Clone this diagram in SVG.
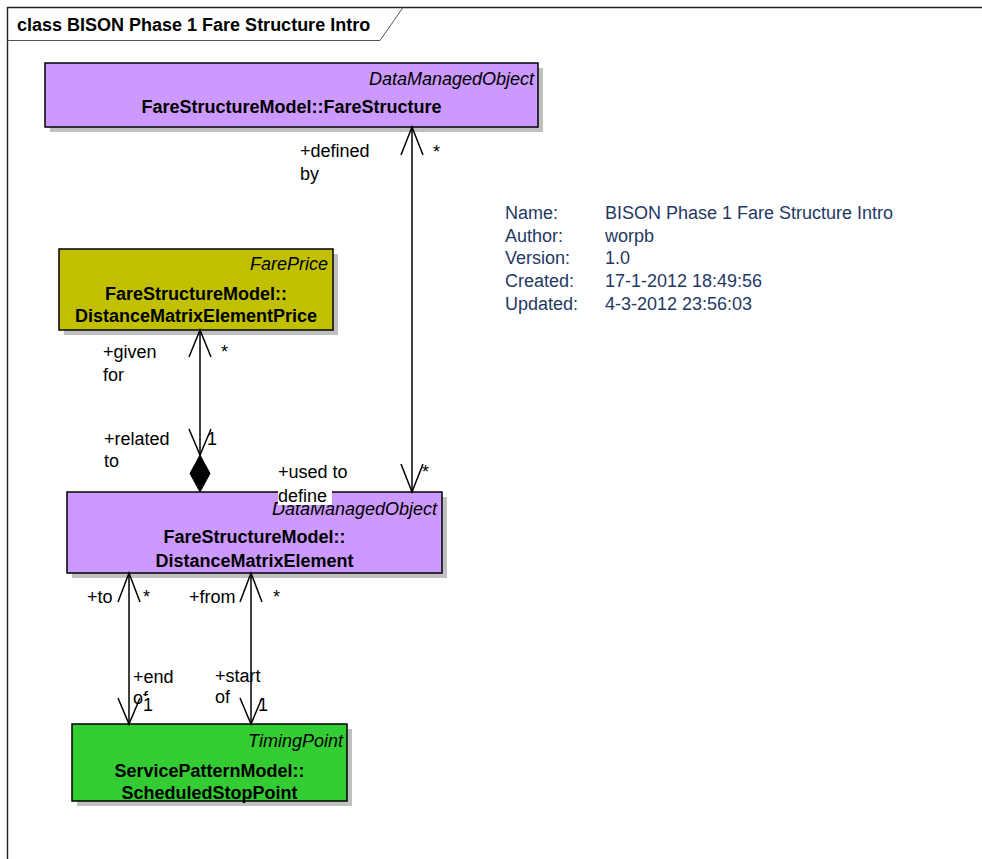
<svg xmlns="http://www.w3.org/2000/svg" width="982" height="859" viewBox="0 0 982 859">
<style>
text { font-family: "Liberation Sans", Arial, sans-serif; font-size: 18px; fill: #000; }
.st { font-style: italic; text-anchor: end; }
.nm { font-weight: bold; text-anchor: middle; }
.box { stroke: #000; stroke-width: 1.5; }
.sh { fill: #C0C0C0; }
.ln { stroke: #000; stroke-width: 1.5; fill: none; }
.info { fill: #1F3864; }
</style>
<rect width="982" height="859" fill="#fff"/>
<g id="frame">
  <path d="M7.5,859 V7.5 H982" fill="none" stroke="#222" stroke-width="1.4"/>
  <path d="M7.5,40.5 H380 L403,7.5" fill="none" stroke="#555" stroke-width="1"/>
  <text x="17" y="31" font-weight="bold">class BISON Phase 1 Fare Structure Intro</text>
</g>
<g id="FareStructure">
  <rect class="sh" x="50" y="68" width="493" height="64"/>
  <rect class="box" x="45" y="63" width="493" height="64" fill="#CC99FF"/>
  <text class="st" x="534" y="85">DataManagedObject</text>
  <text class="nm" x="291.5" y="113">FareStructureModel::FareStructure</text>
</g>
<g id="DistanceMatrixElementPrice">
  <rect class="sh" x="64" y="254" width="274" height="81"/>
  <rect class="box" x="59" y="249" width="274" height="81" fill="#C0C000"/>
  <text class="st" x="328" y="270">FarePrice</text>
  <text class="nm" x="196" y="300">FareStructureModel::</text>
  <text class="nm" x="196" y="322">DistanceMatrixElementPrice</text>
</g>
<g id="DistanceMatrixElement">
  <rect class="sh" x="72" y="497" width="375" height="81"/>
  <rect class="box" x="67" y="492" width="375" height="81" fill="#CC99FF"/>
  <text class="st" x="437" y="515">DataManagedObject</text>
  <text class="nm" x="254.5" y="543">FareStructureModel::</text>
  <text class="nm" x="254.5" y="567">DistanceMatrixElement</text>
</g>
<g id="ScheduledStopPoint">
  <rect class="sh" x="77" y="729" width="275" height="77"/>
  <rect class="box" x="72" y="724" width="275" height="77" fill="#33CC33"/>
  <text class="st" x="343" y="747">TimingPoint</text>
  <text class="nm" x="209.5" y="777">ServicePatternModel::</text>
  <text class="nm" x="209.5" y="799">ScheduledStopPoint</text>
</g>
<g id="connectors">
  <!-- FareStructure - DME -->
  <path class="ln" d="M412,127 V492"/>
  <path class="ln" d="M401,155 L412,127 L423,155"/>
  <path class="ln" d="M401,464 L412,492 L423,464"/>
  <text x="300" y="157">+defined</text>
  <text x="300" y="180">by</text>
  <text x="433" y="158">*</text>
  <text x="422" y="478">*</text>
  <!-- FarePrice - DME -->
  <path class="ln" d="M200,330 V455"/>
  <path class="ln" d="M189,357 L200,330 L211,357"/>
  <path class="ln" d="M189,429 L200,455 L211,429"/>
  <path d="M200,455 L190,473.5 L200,492 L210,473.5 Z" fill="#000" stroke="#000"/>
  <text x="103" y="358">+given</text>
  <text x="103" y="381">for</text>
  <text x="221" y="358">*</text>
  <text x="104" y="445">+related</text>
  <text x="104" y="467">to</text>
  <text x="207" y="445">1</text>
  <text x="278" y="478">+used to</text>
  <rect x="278" y="490" width="54" height="15" fill="#fff"/>
  <text x="278" y="502">define</text>
  <!-- DME - SSP (to) -->
  <path class="ln" d="M129,573 V724"/>
  <path class="ln" d="M118,602 L129,573 L140,602"/>
  <path class="ln" d="M118,698 L129,724 L140,698"/>
  <text x="87" y="603">+to</text>
  <text x="143" y="603">*</text>
  <text x="133" y="683">+end</text>
  <text x="133" y="704">of</text>
  <rect x="143" y="696" width="10" height="18" fill="#fff"/>
  <text x="143" y="711">1</text>
  <!-- DME - SSP (from) -->
  <path class="ln" d="M251,573 V724"/>
  <path class="ln" d="M240,602 L251,573 L262,602"/>
  <path class="ln" d="M240,698 L251,724 L262,698"/>
  <text x="189" y="603">+from</text>
  <text x="273" y="603">*</text>
  <text x="215" y="682">+start</text>
  <text x="215" y="703">of</text>
  <text x="258" y="711">1</text>
</g>
<g id="info">
  <text class="info" x="505" y="219">Name:</text>
  <text class="info" x="605" y="219">BISON Phase 1 Fare Structure Intro</text>
  <text class="info" x="505" y="242">Author:</text>
  <text class="info" x="605" y="242">worpb</text>
  <text class="info" x="505" y="264">Version:</text>
  <text class="info" x="605" y="264">1.0</text>
  <text class="info" x="505" y="287">Created:</text>
  <text class="info" x="605" y="287">17-1-2012 18:49:56</text>
  <text class="info" x="505" y="310">Updated:</text>
  <text class="info" x="605" y="310">4-3-2012 23:56:03</text>
</g>
</svg>
